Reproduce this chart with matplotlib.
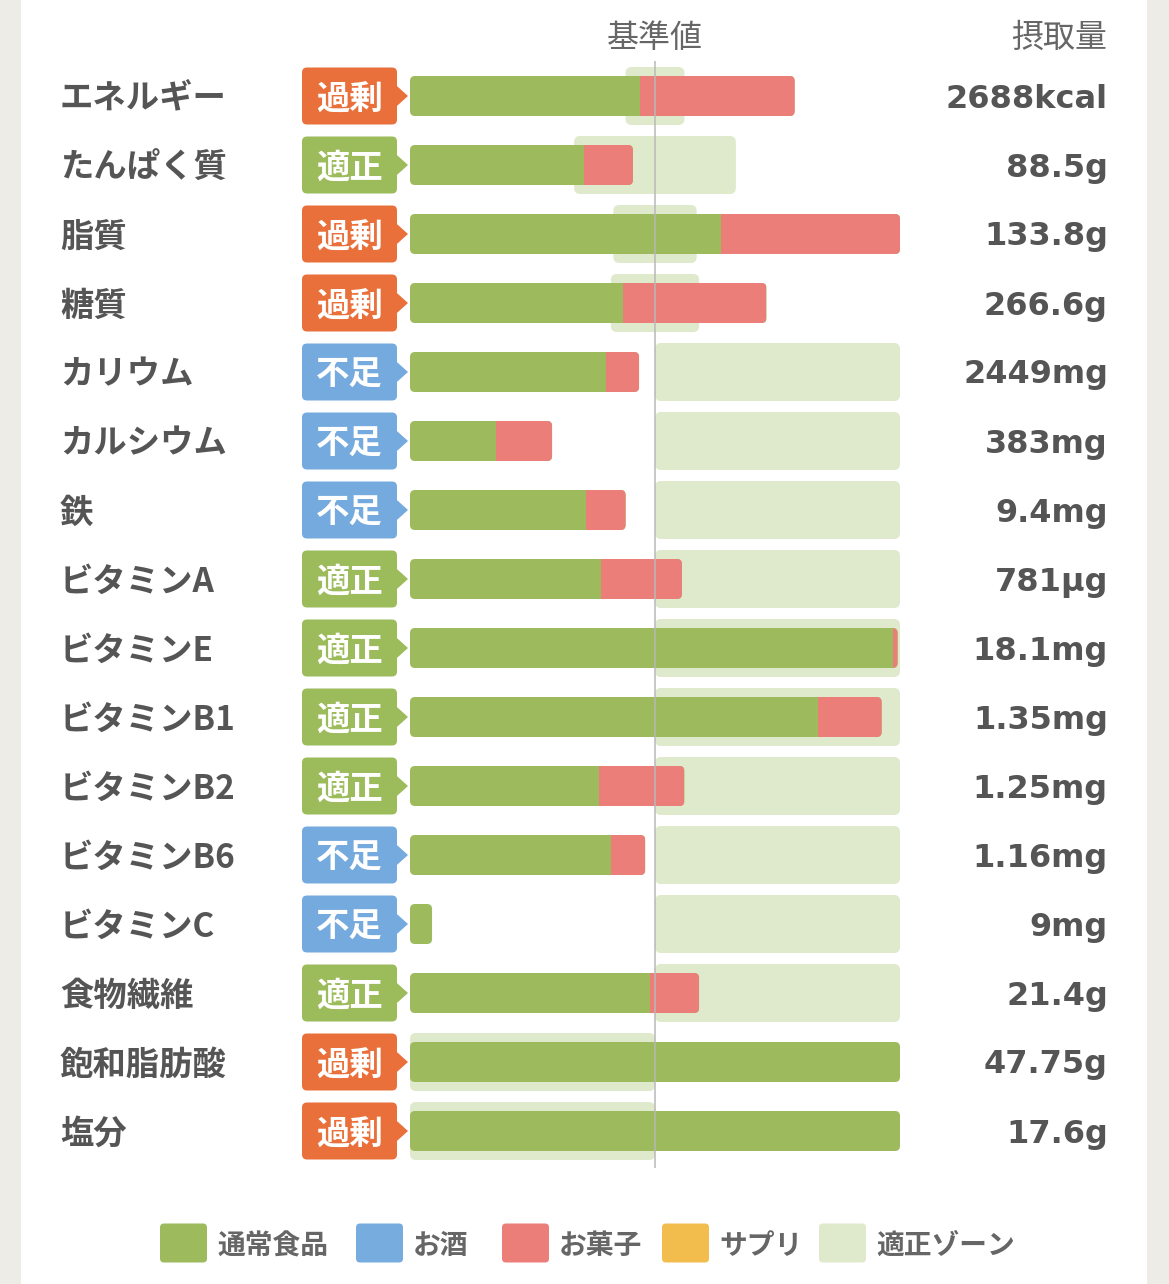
import numpy as np
import matplotlib
matplotlib.use("Agg")
import matplotlib.pyplot as plt
from matplotlib.patches import FancyBboxPatch, Rectangle, Polygon

plt.rcParams['font.family'] = ['Noto Sans CJK JP', 'DejaVu Sans']

# ---- data ----
nutrients = ['エネルギー', 'たんぱく質', '脂質', '糖質', 'カリウム', 'カルシウム', '鉄',
             'ビタミンA', 'ビタミンE', 'ビタミンB1', 'ビタミンB2', 'ビタミンB6',
             'ビタミンC', '食物繊維', '飽和脂肪酸', '塩分']
status = ['過剰', '適正', '過剰', '過剰', '不足', '不足', '不足', '適正', '適正',
          '適正', '適正', '不足', '不足', '適正', '過剰', '過剰']
intake = ['2688kcal', '88.5g', '133.8g', '266.6g', '2449mg', '383mg', '9.4mg',
          '781µg', '18.1mg', '1.35mg', '1.25mg', '1.16mg', '9mg', '21.4g',
          '47.75g', '17.6g']
# percent of the reference value (100 = 基準値), display capped at 200
food_pct = [94, 71, 127, 87, 80, 35, 72, 78, 197, 166.5, 77, 82, 9, 98, 200, 200]
sweets_pct = [63, 20, 73, 58.5, 13.5, 23, 16, 33, 2, 26, 35, 14, 0, 20, 0, 0]
zone_lo = [88, 67, 83, 82, 100, 100, 100, 100, 100, 100, 100, 100, 100, 100, 0, 0]
zone_hi = [112, 133, 117, 118, 200, 200, 200, 200, 200, 200, 200, 200, 200, 200, 100, 100]
legend_labels = ['通常食品', 'お酒', 'お菓子', 'サプリ', '適正ゾーン']

# ---- styling ----
GREEN = '#9dbb5d'
RED = '#ec7e7a'
BLUE = '#77acdf'
YELLOW = '#f3bd4e'
ZONE = '#dfe9cc'
TEXT = '#555555'
badge_colors = {'過剰': '#e9703b', '適正': '#9cbb5b', '不足': '#74aade'}
legend_colors = [GREEN, BLUE, RED, YELLOW, ZONE]

W, H = 1169, 1284
X0, X100 = 410, 655          # pixel position of 0% and 100%
PXPCT = (X100 - X0) / 100.0
ROW0, ROWPX = 96, 69
DY = 3 / ROWPX               # text baseline nudge


def px2x(px):
    return (px - X0) / PXPCT


def py2y(py):
    return (py - ROW0) / ROWPX


fig = plt.figure(figsize=(W / 100, H / 100), dpi=100)
fig.patch.set_facecolor('#edece6')
fig.add_artist(Rectangle((21 / W, 0), (1147 - 21) / W, 1, transform=fig.transFigure,
                         facecolor='white', edgecolor='none', zorder=0))
ax = fig.add_axes([0, 0, 1, 1])
ax.set_facecolor('none')
ax.set_xlim(px2x(0), px2x(W))
ax.set_ylim(py2y(H), py2y(0))
ax.axis('off')

aspect = PXPCT / ROWPX   # data-y per data-x for equal pixel rounding
bar_h = 40 / ROWPX
zone_h = 58 / ROWPX
badge_h = 57 / ROWPX
n = len(nutrients)
rows = np.arange(n)
total = np.minimum(np.array(food_pct) + np.array(sweets_pct), 200)
food = np.minimum(food_pct, 200)

for i in rows:
    # zone
    zp = FancyBboxPatch((zone_lo[i], i - zone_h / 2), zone_hi[i] - zone_lo[i], zone_h,
                        boxstyle='round,pad=0,rounding_size=%f' % (6 / PXPCT),
                        mutation_aspect=aspect, facecolor=ZONE, edgecolor='none', zorder=1)
    ax.add_patch(zp)
    # bar (green body + red part clipped to rounded shape)
    bp = FancyBboxPatch((0, i - bar_h / 2), total[i], bar_h,
                        boxstyle='round,pad=0,rounding_size=%f' % (5 / PXPCT),
                        mutation_aspect=aspect, facecolor=GREEN, edgecolor='none', zorder=2)
    ax.add_patch(bp)
    if total[i] > food[i]:
        rp = Rectangle((food[i], i - bar_h / 2), total[i] - food[i], bar_h,
                       facecolor=RED, edgecolor='none', zorder=3)
        ax.add_patch(rp)
        rp.set_clip_path(bp)

    # badge
    c = badge_colors[status[i]]
    bx0, bx1, tip = px2x(302), px2x(397), px2x(408)
    ax.add_patch(FancyBboxPatch((bx0, i - badge_h / 2), bx1 - bx0, badge_h,
                                boxstyle='round,pad=0,rounding_size=%f' % (5 / PXPCT),
                                mutation_aspect=aspect, facecolor=c, edgecolor='none', zorder=2))
    ax.add_patch(Polygon([[bx1 - 0.5, i - 11 / ROWPX], [tip, i], [bx1 - 0.5, i + 11 / ROWPX]],
                         closed=True, facecolor=c, edgecolor='none', zorder=2))
    ax.text((bx0 + bx1) / 2, i + DY, status[i], color='white', fontsize=24,
            fontweight='bold', ha='center', va='center', zorder=4)

    # labels
    ax.text(px2x(60), i + DY, nutrients[i], color=TEXT, fontsize=24, fontweight='bold',
            ha='left', va='center')
    ax.text(px2x(1108), i + DY, intake[i], color=TEXT, fontsize=23,
            fontweight='bold', family=['DejaVu Sans', 'Noto Sans CJK JP'],
            ha='right', va='center')

# reference line
ax.vlines(100, py2y(61), n - 1 + zone_h / 2 + 0.12, color='#b8b8b8', linewidth=1.1, zorder=5)

# header
ax.text(100, py2y(35) + DY, '基準値', color='#666666', fontsize=23, ha='center', va='center')
ax.text(px2x(1107), py2y(35) + DY, '摂取量', color='#666666', fontsize=23,
        ha='right', va='center')

# legend
leg_x = [160, 356, 502, 662, 819]
ly = py2y(1243)
sq_h = 39 / ROWPX
for lx, lab, col in zip(leg_x, legend_labels, legend_colors):
    ax.add_patch(FancyBboxPatch((px2x(lx), ly - sq_h / 2), 47 / PXPCT, sq_h,
                                boxstyle='round,pad=0,rounding_size=%f' % (4 / PXPCT),
                                mutation_aspect=aspect, facecolor=col, edgecolor='none'))
    ax.text(px2x(lx + 57), ly + DY, lab, color='#666666', fontsize=20, fontweight='bold',
            ha='left', va='center')

fig.savefig('out.png', dpi=100)
